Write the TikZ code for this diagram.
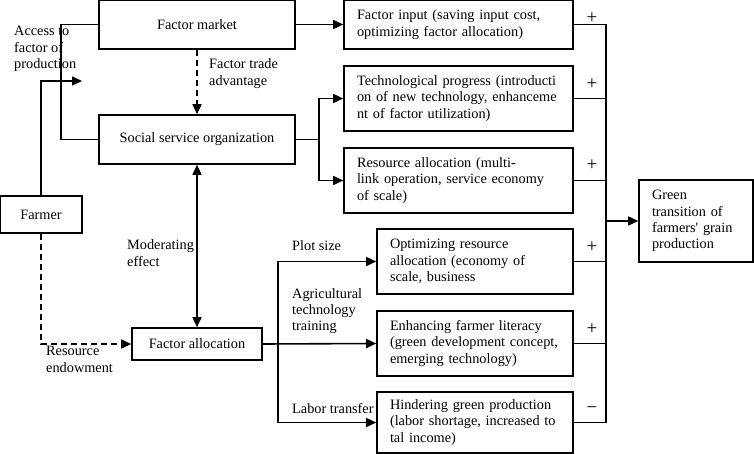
\documentclass[tikz,border=0pt]{standalone}
\usepackage{fontspec}
\setmainfont{Liberation Serif}[Ligatures=TeXOff]
\usetikzlibrary{arrows.meta}
\tikzset{
  box/.style={draw, line width=1.6pt, rectangle, inner sep=0pt},
  tbox/.style={box, align=left, inner xsep=13pt, text width=#1},
  arr/.style={line width=1.6pt, -{Triangle[length=10pt,width=9pt]}},
  arrtwo/.style={line width=1.6pt, {Triangle[length=10pt,width=9pt]}-{Triangle[length=10pt,width=9pt]}},
  plain/.style={line width=1.6pt},
  dsh/.style={dash pattern=on 6pt off 4pt},
  lbl/.style={anchor=west, align=left, inner sep=0pt},
  sign/.style={inner sep=0pt, font=\fontsize{19}{21}\selectfont}
}
\begin{document}
\begin{tikzpicture}[x=1pt, y=-1pt, every node/.append style={font=\fontsize{14.3}{16.3}\selectfont}]
\useasboundingbox (0,0) rectangle (754,454);
% left column
\node[box, minimum width=196pt, minimum height=49pt] (fm) at (197,24.5) {Factor market};
\node[box, minimum width=196pt, minimum height=49pt] (sso) at (197,139.5) {Social service organization};
\node[box, minimum width=82pt, minimum height=37pt] (farmer) at (41,214.5) {Farmer};
\node[box, minimum width=130pt, minimum height=32pt] (fa) at (197,344) {Factor allocation};
% right boxes
\node[tbox=203pt, minimum height=49pt] (fi) at (458.5,24.5) {Factor input (saving input cost,\\optimizing factor allocation)};
\node[tbox=203pt, minimum height=65pt] (tp) at (458.5,98.5) {Technological progress (introducti\\on of new technology, enhanceme\\nt of factor utilization)};
\node[tbox=203pt, minimum height=65pt] (ra) at (458.5,180.5) {Resource allocation (multi-\\link operation, service economy\\of scale)};
\node[tbox=170pt, minimum height=65pt] (ora) at (475,261.5) {Optimizing resource\\allocation (economy of\\scale, business};
\node[tbox=170pt, minimum height=65pt] (efl) at (475,343.5) {Enhancing farmer literacy\\(green development concept,\\emerging technology)};
\node[tbox=170pt, minimum height=61pt] (hgp) at (475,422.5) {Hindering green production\\(labor shortage, increased to\\tal income)};
\node[tbox=88pt, minimum height=82pt] (gt) at (696,221) {Green\\transition of\\farmers' grain\\production};
% coordinates
\coordinate (bx) at (61,139.5);
\coordinate (acc) at (82,81);
\coordinate (sb) at (319,139.5);
\coordinate (fb) at (278,344);
\coordinate (ct) at (606,24.5);
\coordinate (cb) at (606,422.5);
% connectors
\draw[arr] (fm.east) -- (fi.west);
\draw[plain] (fm.west) -| (bx) -- (sso.west);
\draw[arr] (farmer.north) |- (acc);
\draw[arr, dsh] (fm.south) -- (sso.north);
\draw[plain] (sso.east) -- (sb);
\draw[arr] (sb) |- (tp.west);
\draw[arr] (sb) |- (ra.west);
\draw[arrtwo] (sso.south) -- (fa.north);
\draw[arr, dsh] (farmer.south) |- (fa.west);
\draw[arr] (fa.east) -- (efl.west);
\draw[arr] (fb) |- (ora.west);
\draw[arr] (fb) |- (hgp.west);
\draw[plain] (fi.east) -- (ct) -- (cb) -- (hgp.east);
\draw[plain] (tp.east) -- (tp.east -| ct);
\draw[plain] (ra.east) -- (ra.east -| ct);
\draw[plain] (ora.east) -- (ora.east -| ct);
\draw[plain] (efl.east) -- (efl.east -| ct);
\draw[arr] (gt.west -| ct) -- (gt.west);
% labels
\node[lbl] (lacc) at (14,49) {Access to\\factor of\\production};
\node[lbl] (lft) at (209,73.5) {Factor trade\\advantage};
\node[lbl] (lmod) at (127,253) {Moderating\\effect};
\node[lbl] (lres) at (46,359.5) {Resource\\endowment};
\node[lbl] (lplot) at (292,246) {Plot size};
\node[lbl] (lagr) at (292,311) {Agricultural\\technology\\training};
\node[lbl] (llab) at (292,409) {Labor transfer};
% signs
\node[sign] (s1) at (592,18) {+};
\node[sign] (s2) at (592,84) {+};
\node[sign] (s3) at (592,165) {+};
\node[sign] (s4) at (592,247) {+};
\node[sign] (s5) at (592,329) {+};
\node[sign] (s6) at (592,410) {−};
\end{tikzpicture}
\end{document}
